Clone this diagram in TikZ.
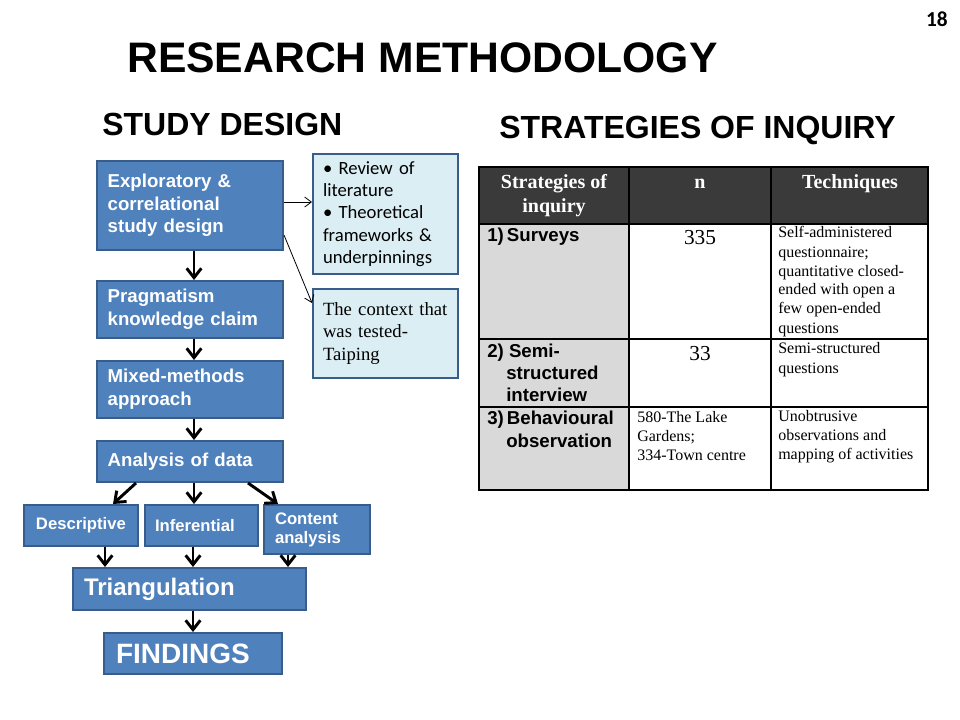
\documentclass[tikz,border=0pt]{standalone}
\usepackage{fontspec}
\setmainfont{Liberation Serif}
\newfontfamily\arialf{Liberation Sans}
\newfontfamily\calibf{Carlito}
\usetikzlibrary{arrows.meta}
\definecolor{boxblue}{HTML}{4F81BD}
\definecolor{boxedge}{HTML}{385D8A}
\definecolor{lightfill}{HTML}{DBEEF4}
\definecolor{hdrgray}{HTML}{3A3A3A}
\definecolor{colgray}{HTML}{D9D9D9}
\newcommand\bxf[2]{\arialf\bfseries\fontsize{#1}{#2}\selectfont}
\begin{document}
\begin{tikzpicture}[x=0.75pt,y=-0.75pt,
  bluebox/.style={draw=boxedge, line width=1.5pt, fill=boxblue, text=white, anchor=north west, align=left, inner ysep=0pt},
  palebox/.style={draw=boxedge, line width=1.5pt, fill=lightfill, text=black, anchor=north west, align=left, inner ysep=0pt},
  arr/.style={line width=2.2pt, -{Straight Barb[length=7pt,width=11pt]}},
  tarr/.style={line width=0.6pt, -{Straight Barb[length=5pt,width=7.5pt]}},
  cell/.style={inner sep=0pt, anchor=base west, align=left},
  ccell/.style={inner sep=0pt, anchor=base, align=center}
]
\fill[white] (0,0) rectangle (960,720);
\useasboundingbox (0,0) rectangle (960,720);

% titles
\node[inner sep=0pt, anchor=base west, font=\bxf{32pt}{38pt}] (title) at (127,73) {RESEARCH METHODOLOGY};
\node[inner sep=0pt, anchor=base east, font=\calibf\bfseries\fontsize{16pt}{19pt}\selectfont] (pnum) at (948,27) {18};
\node[inner sep=0pt, anchor=base west, font=\bxf{24pt}{29pt}] (sd) at (102,136) {STUDY DESIGN};
\node[inner sep=0pt, anchor=base west, font=\bxf{24pt}{29pt}] (soi) at (499,139) {STRATEGIES OF INQUIRY};

% study design flow
\node[bluebox, minimum width=139.5pt, minimum height=66.75pt, text width=123.5pt, inner xsep=8pt, font=\bxf{14pt}{17pt}] (expl) at (96,160) {Exploratory \&\\correlational\\study design};
\node[bluebox, minimum width=139.5pt, minimum height=42.75pt, text width=123.5pt, inner xsep=8pt, font=\bxf{14pt}{17.5pt}] (prag) at (96,280) {Pragmatism\\knowledge claim};
\node[bluebox, minimum width=139.5pt, minimum height=42.75pt, text width=123.5pt, inner xsep=8pt, font=\bxf{14pt}{17.5pt}] (mixed) at (96,360) {Mixed-methods\\approach};
\node[bluebox, minimum width=139.5pt, minimum height=30.75pt, text width=123.5pt, inner xsep=8pt, font=\bxf{14pt}{17pt}] (anal) at (96,440) {Analysis of data};
\node[bluebox, minimum width=85.5pt, minimum height=30.75pt, text width=67.5pt, inner xsep=9pt, font=\bxf{12.5pt}{15pt}] (desc) at (23,504) {Descriptive};
\node[bluebox, minimum width=84.75pt, minimum height=30.75pt, text width=69.75pt, inner xsep=7.5pt, font=\bxf{12.5pt}{15pt}] (inf) at (144,504) {Inferential};
\node[bluebox, minimum width=79.5pt, minimum height=36.75pt, text width=63pt, inner xsep=8.25pt, font=\bxf{12.5pt}{14.25pt}] (cont) at (263,504) {Content\\analysis};
\node[bluebox, minimum width=174.75pt, minimum height=31.5pt, text width=158.25pt, inner xsep=8.25pt, font=\bxf{18pt}{21pt}] (tri) at (72,567) {Triangulation};
\node[bluebox, minimum width=133.5pt, minimum height=30.75pt, text width=115.5pt, inner xsep=9pt, font=\bxf{21pt}{25pt}] (find) at (103,632) {FINDINGS};

\node[palebox, minimum width=108.75pt, minimum height=90pt, text width=93.75pt, inner xsep=7.5pt, font=\calibf\fontsize{14pt}{16.75pt}\selectfont] (rev) at (312,153) {\textbullet\ Review of\\literature\\\textbullet\ Theoretical\\frameworks \&\\underpinnings};
\node[palebox, minimum width=108.75pt, minimum height=66.75pt, text width=93.75pt, inner xsep=7.5pt, font=\fontsize{14pt}{17pt}\selectfont] (ctx) at (312,288) {The context that\\was tested-\\Taiping};

% connectors
\draw[arr] ([xshift=3pt]expl.south) -- ([xshift=3pt]expl.south |- prag.north);
\draw[arr] ([xshift=3pt]prag.south) -- ([xshift=3pt]prag.south |- mixed.north);
\draw[arr] ([xshift=3pt]mixed.south) -- ([xshift=3pt]mixed.south |- anal.north);
\draw[arr] ([xshift=30pt]anal.south west) -- ([xshift=67.5pt]desc.north west);
\draw[arr] ([xshift=3pt]anal.south) -- ([xshift=3pt]anal.south |- inf.north);
\draw[arr] ([xshift=114pt]anal.south west) -- ([xshift=11.25pt]cont.north west);
\draw[arr] ([xshift=61.5pt]desc.south west) -- ([xshift=61.5pt]desc.south west |- tri.north);
\draw[arr] ([xshift=36.75pt]inf.south west) -- ([xshift=36.75pt]inf.south west |- tri.north);
\draw[arr] ([xshift=18.75pt]cont.south west) -- ([xshift=18.75pt]cont.south west |- tri.north);
\draw[arr] ([xshift=90.75pt]tri.south west) -- ([xshift=90.75pt]tri.south west |- find.north);
\draw[tarr] ([yshift=2.6pt]expl.east) -- ([yshift=2.6pt]expl.east -| rev.west);
\draw[tarr] ([yshift=12pt]expl.south east) -- ([yshift=-11.25pt]ctx.north west);

% table
\fill[hdrgray] (479,167) rectangle (928,224);
\fill[colgray] (479,224) rectangle (629,490);
\draw[line width=0.8pt] (479,167) rectangle (928,490);
\draw[line width=0.8pt] (629,167) -- (629,490) (771,167) -- (771,490);
\draw[line width=0.8pt] (479,224) -- (928,224) (479,339) -- (928,339) (479,407) -- (928,407);

% (multi-line cells are placed at the baseline of their last line)
\node[ccell, text=white, font=\bfseries\fontsize{15pt}{18pt}\selectfont] (h1) at (554,213) {Strategies of\\inquiry};
\node[ccell, text=white, font=\bfseries\fontsize{15pt}{18pt}\selectfont] (h2) at (700,189) {n};
\node[ccell, text=white, font=\bfseries\fontsize{15pt}{18pt}\selectfont] (h3) at (850,189) {Techniques};

\node[cell, font=\bxf{14pt}{17pt}] (r1) at (487,242) {1)\,Surveys};
\node[cell, font=\bxf{14pt}{16.5pt}] (r2) at (487,401) {2) Semi-\\\hspace*{14.25pt}structured\\\hspace*{14.25pt}interview};
\node[cell, font=\bxf{14pt}{17.25pt}] (r3) at (487,447) {3)\,Behavioural\\\hspace*{14.25pt}observation};

\node[ccell, font=\fontsize{16pt}{19pt}\selectfont] (n1) at (700,245) {335};
\node[ccell, font=\fontsize{16pt}{19pt}\selectfont] (n2) at (700,360) {33};
\node[cell, font=\fontsize{12pt}{14.25pt}\selectfont] (n3) at (637,460) {580-The Lake\\Gardens;\\334-Town centre};

\node[cell, font=\fontsize{12pt}{14.25pt}\selectfont] (t1) at (778,333) {Self-administered\\questionnaire;\\quantitative closed-\\ended with open a\\few open-ended\\questions};
\node[cell, font=\fontsize{12pt}{15pt}\selectfont] (t2) at (778,373) {Semi-structured\\questions};
\node[cell, font=\fontsize{12pt}{14.25pt}\selectfont] (t3) at (778,459) {Unobtrusive\\observations and\\mapping of activities};
\end{tikzpicture}
\end{document}
